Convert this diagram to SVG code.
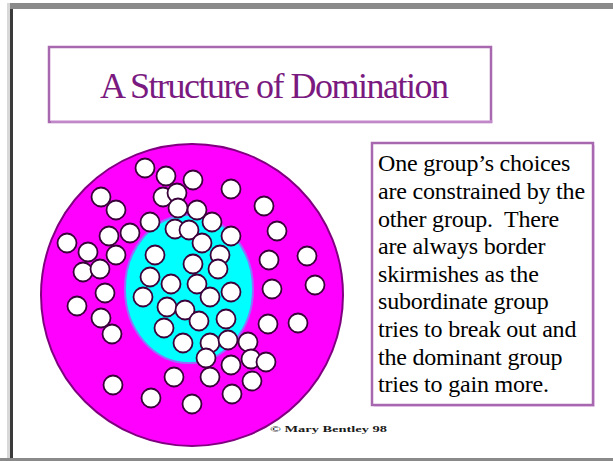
<svg xmlns="http://www.w3.org/2000/svg" width="613" height="461" viewBox="0 0 613 461">
<defs>
<style>
text{font-family:"Liberation Serif","Times New Roman",serif}
.body{font-size:24px;fill:#000;letter-spacing:-0.2px}
.dot{fill:#fff;stroke:#3a003a;stroke-width:1.8}
.frame{fill:#fff;stroke:#a868b0;stroke-width:2.5}
</style>
<circle id="d" r="9.5" class="dot"/>
</defs>
<rect width="613" height="461" fill="#fff"/>
<g id="frame">
<rect x="7" y="3" width="3" height="458" fill="#d8d8d8"/>
<rect x="10" y="3" width="3" height="458" fill="#3a3a3a"/>
<rect x="10" y="3" width="603" height="6" fill="#8a8a8a"/>
<rect x="0" y="458" width="613" height="3" fill="#8a8a8a"/>
</g>
<g id="title">
<rect x="49" y="47" width="442" height="75" class="frame"/>
<rect x="51" y="120" width="442" height="3" fill="#d8a8e0" opacity="0.5"/>
<text x="100" y="98" font-size="36" letter-spacing="-1.5" fill="#7a1a80">A Structure of Domination</text>
</g>
<g id="diagram">
<circle cx="192" cy="295" r="151" fill="#ff00ff" stroke="#800080" stroke-width="2"/>
<ellipse cx="189" cy="289" rx="64" ry="74" fill="#00ffff" stroke="#9070ff" stroke-width="2"/>
<g id="dots">
<use href="#d" x="145" y="168"/>
<use href="#d" x="166" y="176"/>
<use href="#d" x="193" y="180"/>
<use href="#d" x="231" y="189"/>
<use href="#d" x="101" y="197"/>
<use href="#d" x="116" y="210"/>
<use href="#d" x="163" y="197"/>
<use href="#d" x="177" y="193"/>
<use href="#d" x="178" y="208"/>
<use href="#d" x="197" y="210"/>
<use href="#d" x="264" y="206"/>
<use href="#d" x="150" y="222"/>
<use href="#d" x="175" y="229"/>
<use href="#d" x="189" y="230"/>
<use href="#d" x="212" y="222"/>
<use href="#d" x="231" y="236"/>
<use href="#d" x="277" y="231"/>
<use href="#d" x="130" y="233"/>
<use href="#d" x="109" y="236"/>
<use href="#d" x="67" y="243"/>
<use href="#d" x="88" y="252"/>
<use href="#d" x="116" y="255"/>
<use href="#d" x="155" y="255"/>
<use href="#d" x="202" y="243"/>
<use href="#d" x="220" y="255"/>
<use href="#d" x="193" y="264"/>
<use href="#d" x="218" y="269"/>
<use href="#d" x="269" y="260"/>
<use href="#d" x="307" y="256"/>
<use href="#d" x="83" y="272"/>
<use href="#d" x="100" y="269"/>
<use href="#d" x="150" y="277"/>
<use href="#d" x="171" y="284"/>
<use href="#d" x="197" y="284"/>
<use href="#d" x="231" y="292"/>
<use href="#d" x="210" y="297"/>
<use href="#d" x="272" y="289"/>
<use href="#d" x="315" y="285"/>
<use href="#d" x="105" y="293"/>
<use href="#d" x="143" y="297"/>
<use href="#d" x="167" y="307"/>
<use href="#d" x="185" y="310"/>
<use href="#d" x="77" y="306"/>
<use href="#d" x="101" y="318"/>
<use href="#d" x="199" y="321"/>
<use href="#d" x="226" y="319"/>
<use href="#d" x="164" y="328"/>
<use href="#d" x="112" y="334"/>
<use href="#d" x="268" y="324"/>
<use href="#d" x="298" y="323"/>
<use href="#d" x="183" y="343"/>
<use href="#d" x="210" y="343"/>
<use href="#d" x="228" y="340"/>
<use href="#d" x="248" y="342"/>
<use href="#d" x="206" y="358"/>
<use href="#d" x="231" y="365"/>
<use href="#d" x="251" y="359"/>
<use href="#d" x="266" y="362"/>
<use href="#d" x="174" y="377"/>
<use href="#d" x="210" y="377"/>
<use href="#d" x="252" y="381"/>
<use href="#d" x="113" y="385"/>
<use href="#d" x="151" y="398"/>
<use href="#d" x="192" y="404"/>
<use href="#d" x="232" y="394"/>
</g>
</g>
<g id="note">
<rect x="374" y="145" width="221" height="262" fill="#e8c0f0" opacity="0.6"/>
<rect x="372" y="143" width="221" height="262" class="frame" stroke-width="2"/>
<g class="body">
<text x="378" y="171">One group’s choices</text>
<text x="378" y="199">are constrained by the</text>
<text x="378" y="226.5" xml:space="preserve">other group.  There</text>
<text x="378" y="254">are always border</text>
<text x="378" y="282">skirmishes as the</text>
<text x="378" y="309">subordinate group</text>
<text x="378" y="337">tries to break out and</text>
<text x="378" y="364.5">the dominant group</text>
<text x="378" y="392">tries to gain more.</text>
</g>
</g>
<text id="credit" x="270" y="432" font-size="8" font-weight="bold" fill="#1a1a1a" textLength="117" lengthAdjust="spacingAndGlyphs">© Mary Bentley 98</text>
</svg>
